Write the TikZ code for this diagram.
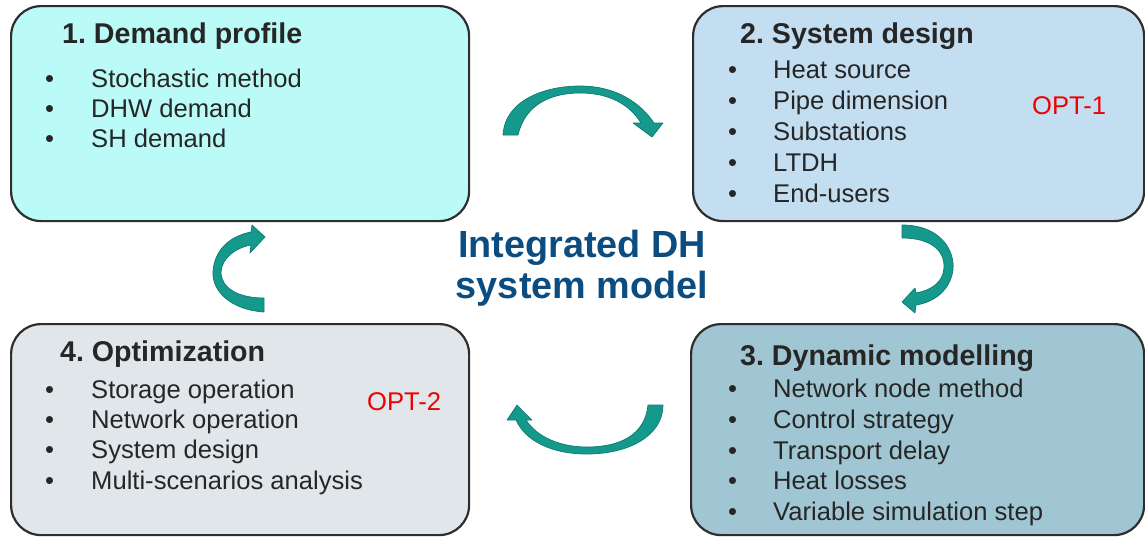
\documentclass[tikz,border=0pt]{standalone}
\usepackage{fontspec}
\setmainfont{Liberation Sans}
\usetikzlibrary{arrows.meta}
\frenchspacing
\definecolor{boxA}{HTML}{BBFBF7}
\definecolor{boxB}{HTML}{C3DEF0}
\definecolor{boxC}{HTML}{9FC6D2}
\definecolor{boxD}{HTML}{E0E6E9}
\definecolor{edge}{HTML}{2E2E2E}
\definecolor{txt}{HTML}{262626}
\definecolor{teal}{HTML}{14998C}
\definecolor{tealdark}{HTML}{0E7A70}
\definecolor{navy}{HTML}{0B4D80}
\definecolor{optred}{HTML}{F00000}
\tikzset{
  panel/.style={draw=edge, line width=2.2pt, rounded corners=30pt, anchor=north west, inner sep=0pt},
  ttl/.style={anchor=base west, inner sep=0pt, text=txt, font=\fontsize{28.6}{34}\selectfont\bfseries\frenchspacing},
  item/.style={anchor=base west, inner sep=0pt, text=txt, font=\fontsize{25.6}{31}\selectfont},
  opt/.style={anchor=base west, inner sep=0pt, text=optred, font=\fontsize{25.6}{31}\selectfont},
  ctr/.style={anchor=base, inner sep=0pt, text=navy, font=\fontsize{37.8}{45}\selectfont\bfseries},
  cyc/.style={fill=teal, draw=tealdark, line width=0.7pt, line join=round},
}
\begin{document}
\begin{tikzpicture}[x=1pt,y=-1pt]
\useasboundingbox (0,0) rectangle (1145,536);
% panels
\node[panel, fill=boxA, minimum width=458pt, minimum height=215pt] (b1) at (10,5) {};
\node[panel, fill=boxB, minimum width=451pt, minimum height=215pt] (b2) at (692,5) {};
\node[panel, fill=boxC, minimum width=453pt, minimum height=211pt] (b3) at (690,323) {};
\node[panel, fill=boxD, minimum width=458pt, minimum height=211pt] (b4) at (10,323) {};
% box 1
\node[ttl] (t1) at (62,43) {1. Demand profile};
\foreach \y/\s [count=\i] in {87/Stochastic method,117/DHW demand,147/SH demand}{
  \node[item] (p1d\i) at (45,\y) {•};
  \node[item] (p1\i) at (91,\y) {\s};
}
% box 2
\node[ttl] (t2) at (740,43) {2. System design};
\foreach \y/\s [count=\i] in {78/Heat source,109/Pipe dimension,140/Substations,171/LTDH,202/End-users}{
  \node[item] (p2d\i) at (728,\y) {•};
  \node[item] (p2\i) at (773,\y) {\s};
}
\node[opt] (o1) at (1032,114) {OPT-1};
% box 3
\node[ttl] (t3) at (740,365) {3. Dynamic modelling};
\foreach \y/\s [count=\i] in {397/Network node method,428/Control strategy,459/Transport delay,489/Heat losses,520/Variable simulation step}{
  \node[item] (p3d\i) at (728,\y) {•};
  \node[item] (p3\i) at (773,\y) {\s};
}
% box 4
\node[ttl] (t4) at (60,361) {4. Optimization};
\foreach \y/\s [count=\i] in {398/Storage operation,428/Network operation,458/System design,489/Multi-scenarios analysis}{
  \node[item] (p4d\i) at (45,\y) {•};
  \node[item] (p4\i) at (91,\y) {\s};
}
\node[opt] (o2) at (367,410) {OPT-2};
% centre
\node[ctr] (c1) at (582,257) {Integrated DH};
\node[ctr] (c2) at (582,298) {system model};
% cycle arrows (tapered ribbons with heads)
% 1 -> 2
\draw[cyc] (503,135) .. controls (505,100) and (545,86) .. (580,86)
  .. controls (615,86) and (640,102) .. (654,123)
  -- (663,123) -- (652,137) -- (633,123) -- (641,123)
  .. controls (630,105) and (610,93) .. (580,93)
  .. controls (550,93) and (525,105) .. (518,135) -- cycle;
% 2 -> 3
\draw[cyc] (902,225) .. controls (940,225) and (955,250) .. (953,270)
  .. controls (950,290) and (935,302) .. (916,305)
  -- (915,313) -- (902,302) -- (915,288) -- (916,293)
  .. controls (932,290) and (943,282) .. (944,268)
  .. controls (945,250) and (930,238) .. (902,238) -- cycle;
% 3 -> 4
\draw[cyc] (663,405) .. controls (663,435) and (630,454) .. (587,454)
  .. controls (550,454) and (525,440) .. (516,420)
  -- (507,420) -- (517,405) -- (532,420) -- (526,420)
  .. controls (537,437) and (560,447) .. (587,447)
  .. controls (620,447) and (645,435) .. (648,405) -- cycle;
% 4 -> 1
\draw[cyc] (264,312) .. controls (232,310) and (212,292) .. (213,272)
  .. controls (214,250) and (230,236) .. (251,232)
  -- (252,225) -- (265,237) -- (250,253) -- (251,245)
  .. controls (235,248) and (222,258) .. (221,272)
  .. controls (221,288) and (238,298) .. (264,298) -- cycle;
\end{tikzpicture}
\end{document}
